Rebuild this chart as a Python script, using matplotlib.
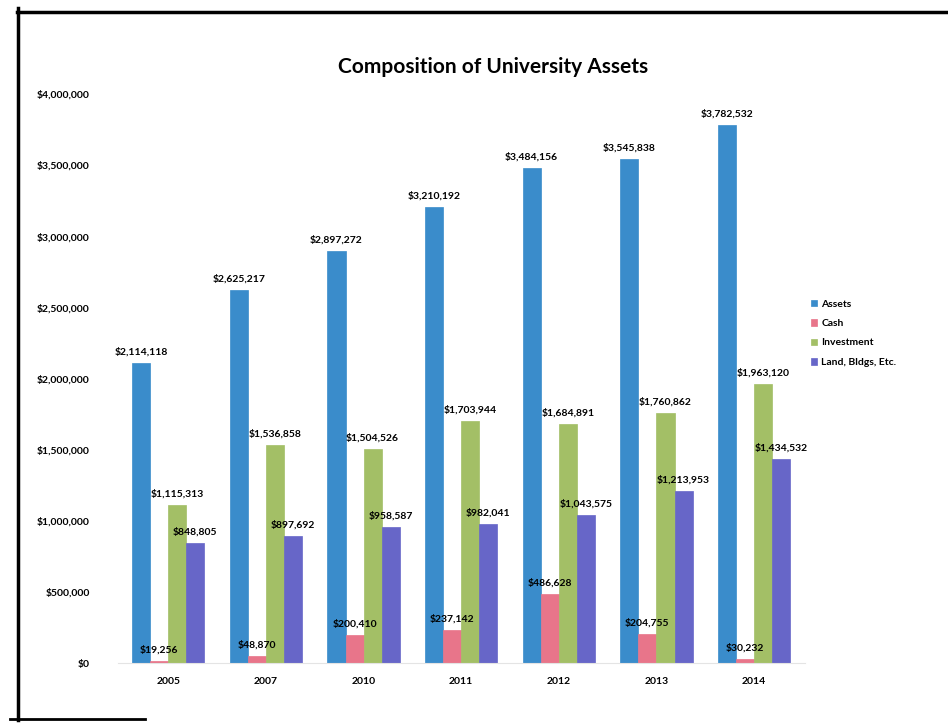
import matplotlib
matplotlib.use("Agg")
import matplotlib.pyplot as plt
import numpy as np
from matplotlib.lines import Line2D
from matplotlib.ticker import FuncFormatter

plt.rcParams["font.family"] = ["Lato", "DejaVu Sans"]

years = ["2005", "2007", "2010", "2011", "2012", "2013", "2014"]
assets = [2114118, 2625217, 2897272, 3210192, 3484156, 3545838, 3782532]
cash = [19256, 48870, 200410, 237142, 486628, 204755, 30232]
investment = [1115313, 1536858, 1504526, 1703944, 1684891, 1760862, 1963120]
land = [848805, 897692, 958587, 982041, 1043575, 1213953, 1434532]

series = [
    ("Assets", assets, "#3a8ccb"),
    ("Cash", cash, "#e8758a"),
    ("Investment", investment, "#a3bf66"),
    ("Land, Bldgs, Etc.", land, "#6766c8"),
]

fig = plt.figure(figsize=(9.48, 7.25), dpi=100)
ax = fig.add_axes([0.124, 0.085, 0.725, 0.785])

x = np.arange(len(years))
w = 0.185
for i, (name, vals, col) in enumerate(series):
    pos = x + (i - 1.5) * w
    ax.bar(pos, vals, w, color=col, label=name, edgecolor=col, linewidth=0.5)
    for px, v in zip(pos, vals):
        ax.text(px, v + 45000, f"${v:,.0f}", ha="center", va="bottom",
                fontsize=7.5, fontweight="bold", color="black")

ax.set_xlim(-0.52, len(years) - 0.48)
ax.set_ylim(0, 4000000)
ax.set_yticks(np.arange(0, 4000001, 500000))
ax.yaxis.set_major_formatter(FuncFormatter(lambda v, p: f"${v:,.0f}"))
ax.set_xticks(x)
ax.set_xticklabels(years)
for lab in ax.get_xticklabels() + ax.get_yticklabels():
    lab.set_fontsize(7.5)
    lab.set_fontweight("bold")
ax.tick_params(length=0, pad=10)
ax.tick_params(axis="y", pad=20)
for s in ["top", "right", "left"]:
    ax.spines[s].set_visible(False)
ax.spines["bottom"].set_color("#e4e4e4")

ax.legend(loc="center left", bbox_to_anchor=(0.995, 0.58), frameon=False,
          prop={"size": 7.5, "weight": "bold"}, handlelength=0.6,
          handleheight=0.6, labelspacing=1.0, handletextpad=0.4)

fig.text(0.52, 0.908, "Composition of University Assets", ha="center",
         va="center", fontsize=15, fontweight="bold")

# scanned page frame
fig.add_artist(Line2D([17 / 948, 1.0], [1 - 12 / 725, 1 - 12 / 725],
                      color="black", lw=2.5, transform=fig.transFigure))
fig.add_artist(Line2D([18 / 948, 18 / 948], [1 - 8 / 725, 1 - 720 / 725],
                      color="black", lw=2.5, transform=fig.transFigure))
fig.add_artist(Line2D([10 / 948, 145 / 948], [1 - 719 / 725, 1 - 719 / 725],
                      color="black", lw=2.0, transform=fig.transFigure))

fig.savefig("out.png", dpi=100)
